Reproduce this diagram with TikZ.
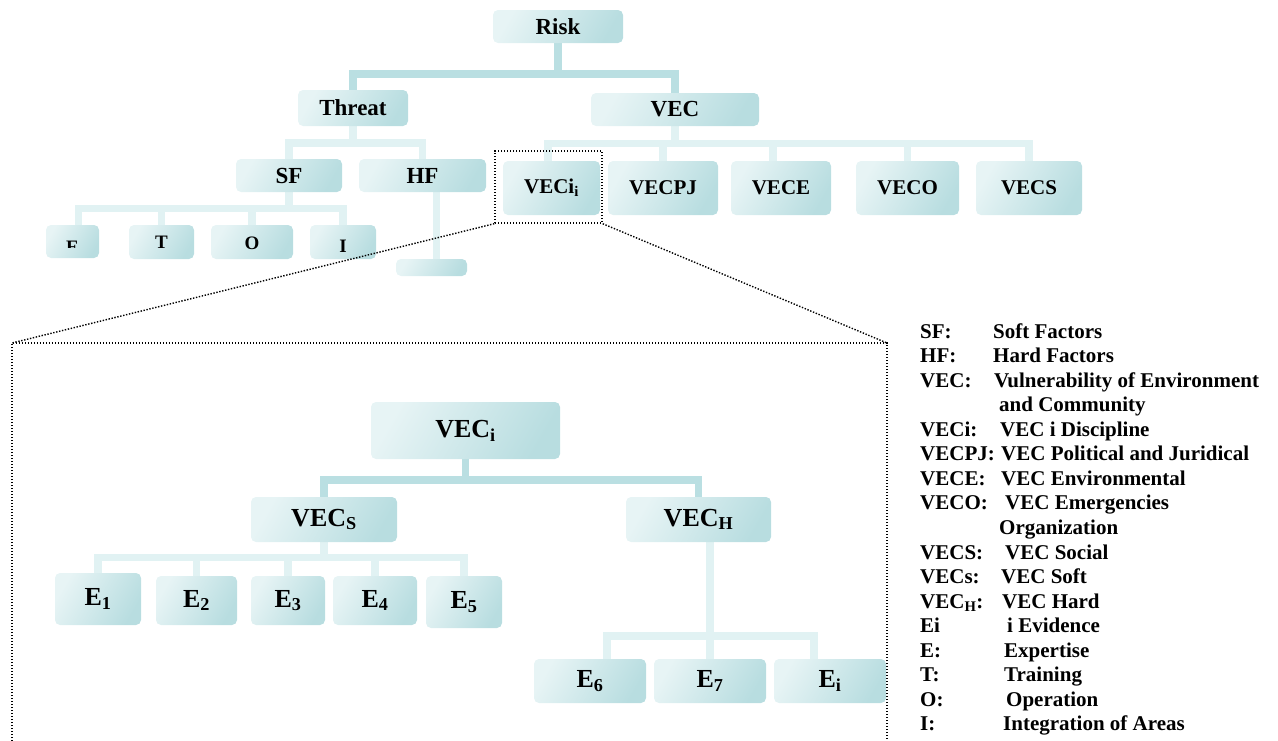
\documentclass[tikz,border=0pt]{standalone}
\usepackage{fontspec}
\setmainfont{Liberation Serif}
\pgfdeclarelayer{bg}
\pgfsetlayers{bg,main}
\definecolor{boxL}{HTML}{E7F4F5}
\definecolor{boxR}{HTML}{B8DDE0}
\definecolor{barD}{HTML}{BADFE2}
\definecolor{barL}{HTML}{E1F2F3}
\newcommand\fs[1]{\fontsize{#1}{#1}\selectfont}
\newcommand\subx[1]{\textsubscript{#1}}
\tikzset{
  box/.style={rounded corners=5pt, top color=boxL, bottom color=boxR, shading angle=60,
    inner sep=0pt, font=\bfseries\fs{23}},
  boxsm/.style={box, font=\bfseries\fs{21}},
  boxbig/.style={box, font=\bfseries\fs{26}},
  conD/.style={draw=barD, line width=7.5pt},
  conL/.style={draw=barL, line width=7.5pt},
  zoomline/.style={draw=black, line width=1.4pt, dash pattern=on 1.4pt off 1.6pt},
  legend/.style={anchor=base west, inner sep=0pt, font=\bfseries\fs{21}}
}
\begin{document}
\begin{tikzpicture}[x=1pt,y=-1pt]
\useasboundingbox (0,0) rectangle (1278,740);
% upper tree
\node[box, minimum width=130, minimum height=33] (risk) at (558,26.5) {Risk};
\node[box, minimum width=110, minimum height=36] (threat) at (353,108) {Threat};
\node[box, minimum width=168, minimum height=33] (vec) at (675,109.5) {VEC};
\node[box, minimum width=106, minimum height=33] (sf) at (289,175.5) {SF};
\node[box, minimum width=127, minimum height=33] (hf) at (422.5,175.5) {HF};
\node[box, minimum width=53, minimum height=33] (e) at (72.5,241.5) {};
\node[box, minimum width=65, minimum height=34] (t) at (161.5,242) {};
\node[box, minimum width=82, minimum height=34] (o) at (252,242) {};
\node[box, minimum width=66, minimum height=34] (i) at (343,242) {};
\node[box, minimum width=71, minimum height=17] (hfbox) at (431.5,267.5) {};
\begin{scope}
  \clip (40,220) rectangle (105,247);
  \node[anchor=base, inner sep=0pt, font=\bfseries\fs{19}] (etext) at (72.5,253) {E};
\end{scope}
\node[anchor=base, inner sep=0pt, font=\bfseries\fs{19}] (ttext) at (161.5,248) {T};
\node[anchor=base, inner sep=0pt, font=\bfseries\fs{19}] (otext) at (252,249) {O};
\node[anchor=base, inner sep=0pt, font=\bfseries\fs{19}] (itext) at (343,252) {I};
\node[boxsm, minimum width=97, minimum height=54] (veci) at (551.5,188) {VECi\subx{i}};
\node[boxsm, minimum width=110, minimum height=54] (vecpj) at (663,188) {VECPJ};
\node[boxsm, minimum width=100, minimum height=54] (vece) at (781,188) {VECE};
\node[boxsm, minimum width=103, minimum height=54] (veco) at (907.5,188) {VECO};
\node[boxsm, minimum width=106, minimum height=54] (vecs) at (1029,188) {VECS};
% lower tree
\node[boxbig, minimum width=189, minimum height=57] (bveci) at (465.5,430.5) {VEC\subx{i}};
\node[boxbig, minimum width=146, minimum height=45] (vS) at (324,519.5) {VEC\subx{S}};
\node[boxbig, minimum width=145, minimum height=45] (vH) at (698.5,519.5) {VEC\subx{H}};
\node[boxbig, minimum width=86, minimum height=52] (e1) at (98,599) {E\subx{1}};
\node[boxbig, minimum width=81, minimum height=49] (e2) at (196.5,600.5) {E\subx{2}};
\node[boxbig, minimum width=74, minimum height=49] (e3) at (288,600.5) {E\subx{3}};
\node[boxbig, minimum width=84, minimum height=49] (e4) at (375,600.5) {E\subx{4}};
\node[boxbig, minimum width=76, minimum height=52] (e5) at (464,602) {E\subx{5}};
\node[boxbig, minimum width=112, minimum height=44] (e6) at (590,681) {E\subx{6}};
\node[boxbig, minimum width=112, minimum height=44] (e7) at (710,681) {E\subx{7}};
\node[boxbig, minimum width=112, minimum height=44] (ei) at (830,681) {E\subx{i}};
% connectors
\begin{pgfonlayer}{bg}
\draw[conD] (risk.south) -- ++(0,31) -| (threat.north);
\draw[conD] (risk.south) -- ++(0,31) -| (vec.north);
\draw[conL] (threat.south) -- ++(0,17) -| (sf.north);
\draw[conL] (threat.south) -- ++(0,17) -| (hf.north);
\foreach \c/\dx in {veci/-3.5, vecpj/0, vece/-8, veco/0, vecs/0}
  \draw[conL] (vec.south) -- ++(0,17.5) -| ([xshift=\dx]\c.north);
\foreach \c/\dx in {e/6, t/0, o/0, i/0}
  \draw[conL] (sf.south) -- ++(0,16.5) -| ([xshift=\dx]\c.north);
\draw[conL] ([xshift=14]hf.south) -- ([xshift=5]hfbox.center);
\draw[conD] (bveci.south) -- ++(0,21) -| (vS.north);
\draw[conD] (bveci.south) -- ++(0,21) -| (vH.north);
\foreach \c in {e1,e2,e3,e4,e5}
  \draw[conL] (vS.south) -- ++(0,15.5) -| (\c.north);
\foreach \c/\dx in {e6/17, e7/0, ei/-16}
  \draw[conL] ([xshift=11.5]vH.south) -- ++(0,94) -| ([xshift=\dx]\c.north);
\end{pgfonlayer}
% zoom frame
\node[zoomline, minimum width=107, minimum height=72, inner sep=0pt] (zr) at (548.5,187) {};
\coordinate (btl) at (12,343);
\coordinate (btr) at (887,343);
\coordinate (bbl) at (12,741);
\coordinate (bbr) at (887,741);
\draw[zoomline] (zr.south west) -- (btl);
\draw[zoomline] (zr.south east) -- (btr);
\draw[zoomline] (bbl) -- (btl) -- (btr) -- (bbr);
% legend
\node[legend] (l1a) at (920,338) {SF:};      \node[legend] (l1b) at (993,338) {Soft Factors};
\node[legend] (l2a) at (920,362) {HF:};      \node[legend] (l2b) at (993,362) {Hard Factors};
\node[legend] (l3a) at (920,387) {VEC:};     \node[legend] (l3b) at (994,387) {Vulnerability of Environment};
\node[legend] (l3c) at (999,411) {and Community};
\node[legend] (l4a) at (920,436) {VECi:};    \node[legend] (l4b) at (1000,436) {VEC i Discipline};
\node[legend] (l5a) at (920,460) {VECPJ:};   \node[legend] (l5b) at (1001,460) {VEC Political and Juridical};
\node[legend] (l6a) at (920,485) {VECE:};    \node[legend] (l6b) at (1001,485) {VEC Environmental};
\node[legend] (l7a) at (920,509) {VECO:};    \node[legend] (l7b) at (1005,509) {VEC Emergencies};
\node[legend] (l7c) at (999,534) {Organization};
\node[legend] (l8a) at (920,559) {VECS:};    \node[legend] (l8b) at (1005,559) {VEC Social};
\node[legend] (l9a) at (920,583) {VECs:};    \node[legend] (l9b) at (1001,583) {VEC Soft};
\node[legend] (l10a) at (920,608) {VEC\subx{H}:}; \node[legend] (l10b) at (1002,608) {VEC Hard};
\node[legend] (l11a) at (920,632) {Ei};      \node[legend] (l11b) at (1007,632) {i Evidence};
\node[legend] (l12a) at (920,657) {E:};      \node[legend] (l12b) at (1004,657) {Expertise};
\node[legend] (l13a) at (920,681) {T:};      \node[legend] (l13b) at (1004,681) {Training};
\node[legend] (l14a) at (920,706) {O:};      \node[legend] (l14b) at (1006,706) {Operation};
\node[legend] (l15a) at (920,730) {I:};      \node[legend] (l15b) at (1003,730) {Integration of Areas};
\end{tikzpicture}
\end{document}
